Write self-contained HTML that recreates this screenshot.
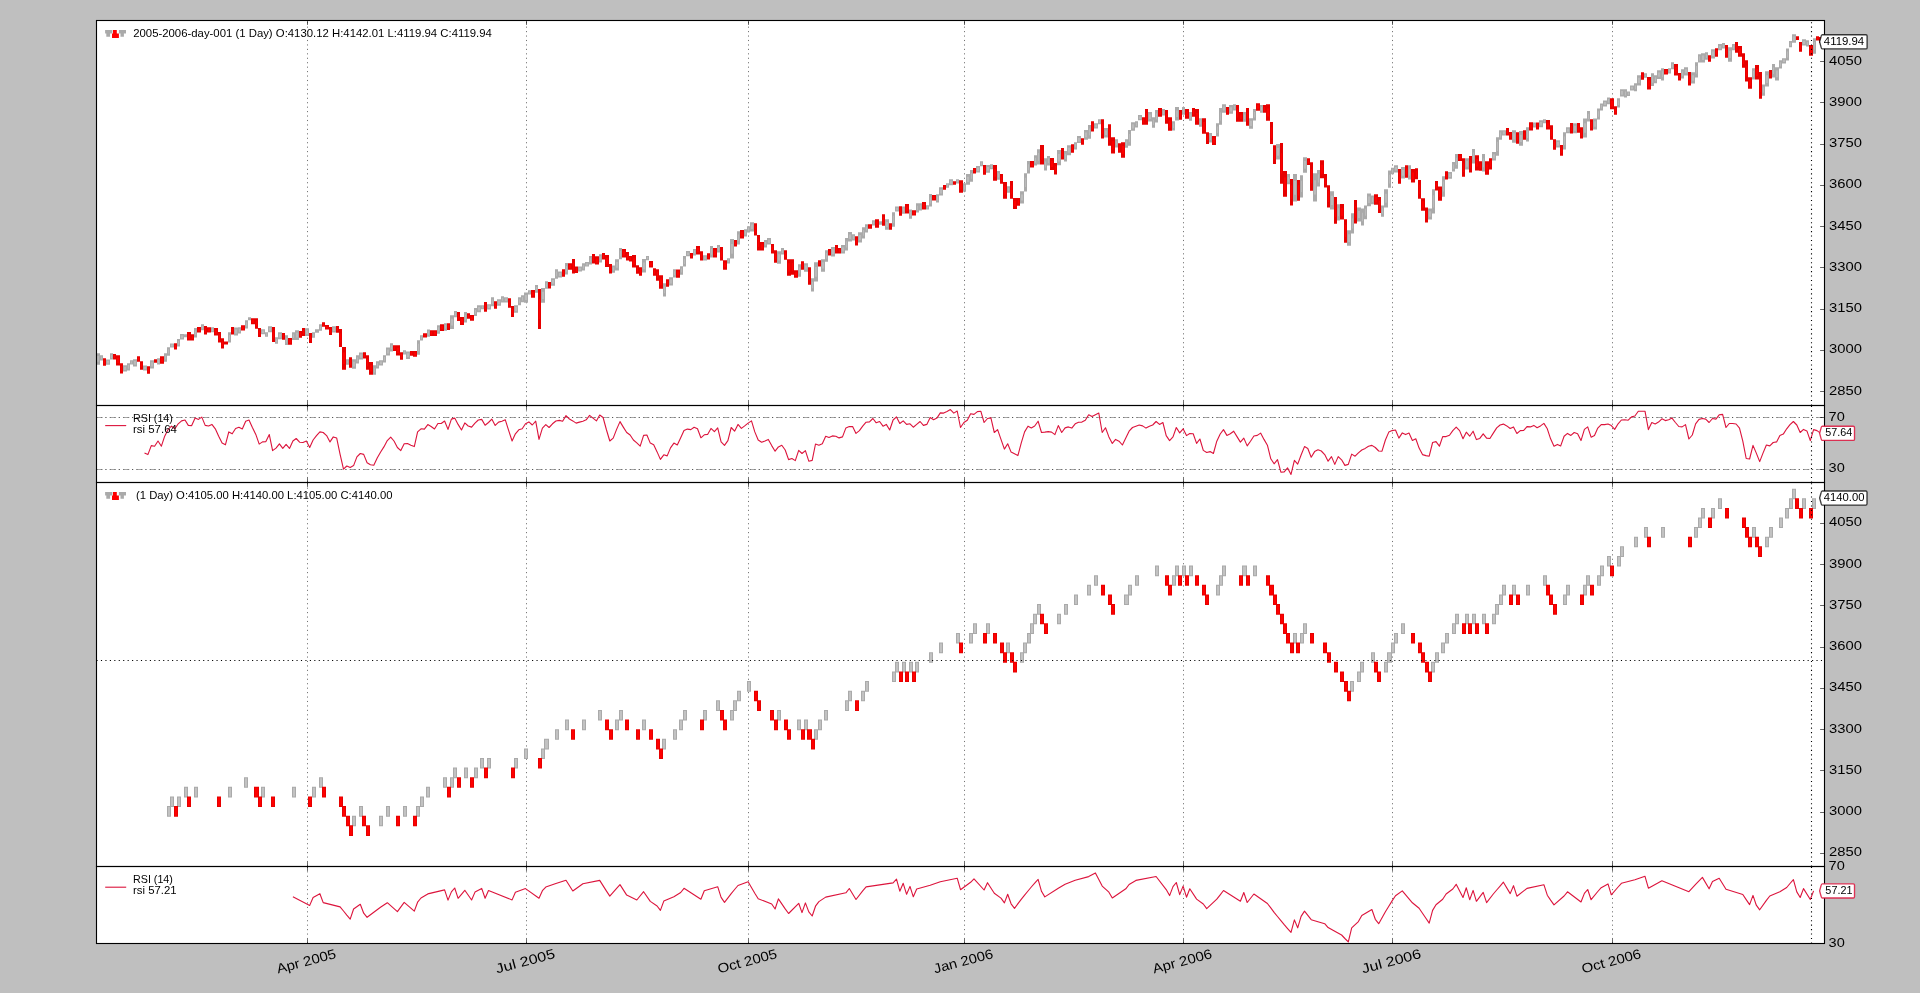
<!DOCTYPE html>
<html lang="en"><head><meta charset="utf-8"><title>backtrader plot</title>
<style>html,body{margin:0;padding:0;background:#bfbfbf;overflow:hidden}svg{display:block}text{font-family:"Liberation Sans",sans-serif;fill:#000}</style></head><body>
<svg width="1920" height="993" viewBox="0 0 1920 993">
<rect x="0" y="0" width="1920" height="993" fill="#bfbfbf"/>
<rect x="96.5" y="20.5" width="1728.0" height="385.0" fill="#fff"/>
<rect x="96.5" y="405.5" width="1728.0" height="77.0" fill="#fff"/>
<rect x="96.5" y="482.5" width="1728.0" height="384.0" fill="#fff"/>
<rect x="96.5" y="866.5" width="1728.0" height="77.0" fill="#fff"/>
<g stroke="#000" stroke-width="0.56" stroke-dasharray="1.1111 3.3333" fill="none">
<path d="M307.5 405.5V20.5"/>
<path d="M307.5 482.5V405.5"/>
<path d="M307.5 866.5V482.5"/>
<path d="M307.5 943.5V866.5"/>
<path d="M526.5 405.5V20.5"/>
<path d="M526.5 482.5V405.5"/>
<path d="M526.5 866.5V482.5"/>
<path d="M526.5 943.5V866.5"/>
<path d="M748.5 405.5V20.5"/>
<path d="M748.5 482.5V405.5"/>
<path d="M748.5 866.5V482.5"/>
<path d="M748.5 943.5V866.5"/>
<path d="M964.5 405.5V20.5"/>
<path d="M964.5 482.5V405.5"/>
<path d="M964.5 866.5V482.5"/>
<path d="M964.5 943.5V866.5"/>
<path d="M1183.5 405.5V20.5"/>
<path d="M1183.5 482.5V405.5"/>
<path d="M1183.5 866.5V482.5"/>
<path d="M1183.5 943.5V866.5"/>
<path d="M1392.5 405.5V20.5"/>
<path d="M1392.5 482.5V405.5"/>
<path d="M1392.5 866.5V482.5"/>
<path d="M1392.5 943.5V866.5"/>
<path d="M1612.5 405.5V20.5"/>
<path d="M1612.5 482.5V405.5"/>
<path d="M1612.5 866.5V482.5"/>
<path d="M1612.5 943.5V866.5"/>
</g>
<g stroke="#000" stroke-width="0.56" stroke-dasharray="1.1111 3.3333" fill="none">
<path d="M96.5 417.5H1824.5"/><path d="M96.5 469.5H1824.5"/>
</g>
<g stroke="#a8a8a8" stroke-width="1.11" stroke-dasharray="6.2 7.1333" fill="none">
<path d="M96.5 417.5H1824.5"/><path d="M96.5 469.5H1824.5"/>
</g>
<g stroke="#000" stroke-opacity="0.55" stroke-width="0.56" stroke-dasharray="1.1111 3.3333" fill="none">
<path d="M96.5 417.5H1824.5"/><path d="M96.5 469.5H1824.5"/>
</g>
<path fill="#aaaaaa" d="M96 353.2h4v11.5h-4zM100 355.3h3v5.2h-3zM106 359.5h4v5.2h-4zM110 353.2h3v6.2h-3zM123 365.3h4v6.2h-4zM127 363.3h3v7.3h-3zM130 360.2h3v4.3h-3zM133 359.3h4v7.3h-4zM143 365.5h4v5.0h-4zM150 360.2h4v8.4h-4zM157 358.3h3v6.2h-3zM164 353.2h3v8.5h-3zM167 347.2h3v8.5h-3zM170 343.4h4v4.0h-4zM177 339.1h3v7.5h-3zM180 334.1h4v5.4h-4zM184 334.3h3v3.0h-3zM194 328.1h3v9.5h-3zM201 324.2h3v6.0h-3zM211 327.3h3v5.0h-3zM228 332.3h3v10.3h-3zM234 327.5h4v8.1h-4zM238 327.3h3v6.2h-3zM245 320.2h3v8.3h-3zM248 317.2h3v3.0h-3zM261 329.3h4v5.0h-4zM265 332.3h3v4.5h-3zM268 326.3h4v6.0h-4zM275 337.3h3v6.5h-3zM278 332.3h4v7.0h-4zM285 335.3h3v9.6h-3zM292 332.3h3v7.6h-3zM295 330.3h4v9.6h-4zM305 328.3h4v7.6h-4zM312 332.3h3v5.5h-3zM315 329.3h4v3.5h-4zM319 324.2h3v6.5h-3zM332 326.3h4v6.2h-4zM346 359.3h3v5.4h-3zM352 359.3h4v9.5h-4zM356 355.3h3v8.3h-3zM359 352.4h4v7.0h-4zM373 365.3h3v9.5h-3zM376 361.3h3v7.3h-3zM379 360.3h4v5.2h-4zM383 355.3h3v7.3h-3zM386 347.4h4v8.1h-4zM390 343.2h3v8.3h-3zM403 350.2h3v4.2h-3zM406 351.4h4v7.5h-4zM417 340.2h3v14.6h-3zM420 335.3h3v5.2h-3zM427 329.4h3v7.3h-3zM437 325.2h3v8.5h-3zM444 323.2h3v7.5h-3zM450 315.3h4v13.6h-4zM454 311.1h3v6.2h-3zM464 312.1h3v10.5h-3zM474 308.1h3v7.8h-3zM477 305.2h4v7.0h-4zM481 305.2h3v4.0h-3zM487 304.2h4v5.2h-4zM491 297.2h3v9.1h-3zM497 299.2h4v6.5h-4zM501 296.2h3v6.2h-3zM504 297.2h4v5.2h-4zM514 305.2h4v7.6h-4zM518 297.2h3v8.1h-3zM521 295.2h3v7.0h-3zM524 292.4h4v10.4h-4zM528 290.3h3v4.3h-3zM535 285.1h3v7.6h-3zM541 288.1h4v14.6h-4zM545 281.3h3v7.4h-3zM551 278.3h4v7.4h-4zM555 269.2h3v9.5h-3zM558 271.4h4v6.2h-4zM565 263.1h3v11.5h-3zM578 266.4h4v5.2h-4zM582 263.3h3v7.3h-3zM585 262.1h4v4.4h-4zM589 256.1h3v8.3h-3zM599 254.3h3v8.3h-3zM612 265.4h3v7.3h-3zM615 259.3h4v11.3h-4zM619 248.0h3v11.3h-3zM642 259.1h4v13.5h-4zM646 256.1h3v4.2h-3zM663 283.3h3v13.3h-3zM669 277.2h4v8.3h-4zM673 269.2h3v8.3h-3zM680 266.2h3v8.5h-3zM683 256.1h3v10.5h-3zM686 251.1h4v5.2h-4zM693 249.0h3v6.4h-3zM703 255.3h4v5.2h-4zM710 246.1h3v11.5h-3zM717 245.1h3v7.5h-3zM727 258.2h3v5.4h-3zM730 239.1h4v19.5h-4zM737 231.2h3v13.3h-3zM744 229.2h3v7.3h-3zM747 226.2h3v6.2h-3zM750 222.2h4v9.3h-4zM764 240.1h3v7.5h-3zM767 238.1h4v6.4h-4zM777 251.2h4v12.5h-4zM781 248.1h3v6.4h-3zM798 264.2h3v12.5h-3zM804 263.2h4v8.5h-4zM811 278.3h3v13.3h-3zM814 262.2h4v19.3h-4zM821 259.2h4v12.5h-4zM825 250.2h3v11.5h-3zM831 247.1h4v9.5h-4zM841 245.1h4v8.5h-4zM845 238.1h3v12.5h-3zM848 232.0h4v9.5h-4zM852 234.2h3v6.2h-3zM858 232.3h4v10.3h-4zM862 227.3h3v11.3h-3zM865 224.3h3v8.3h-3zM872 220.3h3v5.2h-3zM879 221.3h3v3.4h-3zM885 219.2h4v10.5h-4zM892 212.2h3v14.5h-3zM895 206.4h4v5.2h-4zM902 206.4h3v7.3h-3zM909 209.4h3v9.3h-3zM916 203.3h3v9.3h-3zM919 203.3h3v7.3h-3zM926 205.2h3v4.4h-3zM929 194.1h3v12.5h-3zM936 194.3h3v8.3h-3zM939 187.2h4v8.3h-4zM946 183.2h3v4.5h-3zM949 179.2h4v6.0h-4zM956 179.2h3v4.2h-3zM963 183.2h3v8.6h-3zM966 174.1h4v10.6h-4zM970 170.1h3v11.6h-3zM976 166.1h4v6.5h-4zM980 161.2h3v5.0h-3zM986 165.1h4v7.6h-4zM990 164.3h3v5.0h-3zM997 171.1h3v8.6h-3zM1007 186.2h3v6.5h-3zM1020 191.3h4v12.3h-4zM1024 173.2h3v18.3h-3zM1027 161.1h3v12.3h-3zM1034 155.3h3v10.1h-3zM1037 149.2h3v15.3h-3zM1044 158.3h3v12.3h-3zM1047 156.1h3v9.3h-3zM1057 150.0h4v15.3h-4zM1064 151.1h3v10.5h-3zM1067 145.2h4v10.1h-4zM1074 142.2h3v7.3h-3zM1077 136.1h4v7.0h-4zM1084 130.1h4v9.6h-4zM1088 125.1h3v13.6h-3zM1094 123.3h4v5.3h-4zM1098 119.2h3v5.0h-3zM1104 128.1h4v9.3h-4zM1115 139.2h3v8.3h-3zM1125 139.2h3v8.6h-3zM1128 130.1h3v15.6h-3zM1131 122.3h4v8.4h-4zM1135 121.2h3v6.3h-3zM1138 115.1h4v5.2h-4zM1148 112.1h4v9.3h-4zM1152 117.2h3v10.6h-3zM1155 110.1h3v12.3h-3zM1162 109.1h3v6.5h-3zM1172 121.2h3v9.3h-3zM1175 107.1h4v13.3h-4zM1182 107.1h3v7.6h-3zM1189 112.1h3v8.6h-3zM1199 118.2h3v8.6h-3zM1209 133.1h3v9.5h-3zM1216 123.2h3v13.3h-3zM1219 108.1h3v16.6h-3zM1222 104.3h4v8.4h-4zM1229 105.1h4v8.6h-4zM1233 104.3h3v6.3h-3zM1243 112.1h3v9.6h-3zM1249 118.2h4v10.6h-4zM1253 109.1h3v11.3h-3zM1260 105.1h3v7.6h-3zM1276 144.1h4v15.5h-4zM1287 174.1h3v10.2h-3zM1293 174.1h4v27.4h-4zM1300 175.2h3v22.4h-3zM1303 157.2h4v15.5h-4zM1313 173.2h4v28.2h-4zM1317 170.1h3v16.4h-3zM1330 191.2h4v18.4h-4zM1337 204.3h3v16.1h-3zM1347 230.3h4v15.5h-4zM1351 213.3h3v20.3h-3zM1357 207.4h4v14.1h-4zM1361 208.5h3v17.1h-3zM1364 205.4h3v13.8h-3zM1367 193.4h4v12.9h-4zM1371 195.4h3v8.9h-3zM1381 205.4h3v11.3h-3zM1384 189.3h4v18.1h-4zM1388 170.5h3v17.2h-3zM1391 167.7h3v6.6h-3zM1394 165.3h4v7.1h-4zM1401 167.1h4v11.4h-4zM1408 165.3h3v14.1h-3zM1428 208.4h4v11.1h-4zM1432 189.2h3v24.4h-3zM1442 176.3h3v20.4h-3zM1448 172.1h4v6.6h-4zM1452 162.1h3v9.4h-3zM1455 154.1h3v14.6h-3zM1465 158.2h4v11.4h-4zM1472 149.0h3v14.4h-3zM1482 154.1h3v17.4h-3zM1492 152.1h4v8.3h-4zM1496 137.2h3v18.5h-3zM1499 130.2h3v9.5h-3zM1502 130.2h4v5.3h-4zM1512 130.2h4v12.5h-4zM1519 131.1h4v14.6h-4zM1526 127.2h3v14.4h-3zM1533 122.4h3v5.1h-3zM1539 120.3h4v7.0h-4zM1543 119.2h3v4.1h-3zM1556 140.3h4v7.2h-4zM1563 132.2h3v17.3h-3zM1566 127.3h4v6.0h-4zM1573 123.3h4v10.0h-4zM1583 118.5h4v19.1h-4zM1587 111.1h3v10.3h-3zM1593 118.5h4v11.1h-4zM1597 108.5h3v11.1h-3zM1600 103.4h3v7.0h-3zM1603 100.4h4v6.1h-4zM1607 97.4h3v6.9h-3zM1617 98.2h3v9.2h-3zM1620 89.3h4v7.2h-4zM1624 89.3h3v8.3h-3zM1627 91.5h3v4.4h-3zM1630 85.4h4v5.0h-4zM1634 83.2h3v8.0h-3zM1637 75.3h4v10.2h-4zM1644 73.3h3v4.4h-3zM1651 73.3h3v12.7h-3zM1654 75.3h3v8.0h-3zM1657 70.2h4v8.8h-4zM1661 68.3h3v12.1h-3zM1668 68.3h3v5.2h-3zM1671 62.3h3v7.0h-3zM1681 69.3h3v9.1h-3zM1684 67.3h4v8.1h-4zM1691 72.3h4v11.3h-4zM1695 62.3h3v15.3h-3zM1698 54.2h3v8.3h-3zM1701 53.2h4v9.3h-4zM1705 52.2h3v7.6h-3zM1711 49.2h4v9.3h-4zM1718 44.1h4v6.2h-4zM1722 43.1h3v5.5h-3zM1728 47.2h4v14.6h-4zM1732 44.1h3v6.2h-3zM1752 68.3h3v11.3h-3zM1762 84.4h3v11.3h-3zM1765 71.3h4v15.3h-4zM1772 64.1h3v13.5h-3zM1775 67.3h4v13.3h-4zM1779 60.2h3v8.3h-3zM1782 58.2h4v5.2h-4zM1786 48.4h3v12.1h-3zM1789 41.1h3v6.2h-3zM1792 34.3h4v8.4h-4zM1802 39.3h4v6.3h-4zM1806 40.3h3v6.3h-3zM1813 38.3h3v15.4h-3z"/>
<path fill="#e60000" d="M103 358.3h3v7.5h-3zM113 354.0h3v5.4h-3zM116 355.3h4v10.3h-4zM120 363.3h3v10.3h-3zM137 356.2h3v5.5h-3zM140 361.3h3v8.5h-3zM147 366.2h3v7.6h-3zM154 359.3h3v3.4h-3zM160 356.2h4v7.6h-4zM174 343.2h3v6.4h-3zM187 332.1h4v8.5h-4zM191 334.3h3v6.2h-3zM197 327.1h4v5.4h-4zM204 326.1h3v8.5h-3zM207 327.3h4v5.2h-4zM214 328.1h4v7.5h-4zM218 332.1h3v10.5h-3zM221 338.3h3v10.3h-3zM224 341.4h4v3.2h-4zM231 327.1h3v7.5h-3zM241 325.2h4v5.2h-4zM251 318.2h4v6.0h-4zM255 318.2h3v10.6h-3zM258 328.1h3v8.8h-3zM272 327.1h3v14.8h-3zM282 333.1h3v6.7h-3zM288 338.1h4v6.7h-4zM299 331.1h3v6.7h-3zM302 328.1h3v7.8h-3zM309 333.1h3v9.8h-3zM322 322.2h3v4.5h-3zM325 325.0h4v4.4h-4zM329 327.1h3v7.8h-3zM336 326.1h3v6.7h-3zM339 329.1h3v17.8h-3zM342 346.9h4v22.9h-4zM349 357.3h3v10.5h-3zM363 352.2h3v6.2h-3zM366 355.3h3v14.5h-3zM369 362.0h4v12.8h-4zM393 345.2h3v5.7h-3zM396 345.2h4v10.3h-4zM400 352.2h3v7.5h-3zM410 351.1h3v4.7h-3zM413 351.1h4v5.7h-4zM423 333.2h4v4.4h-4zM430 330.2h3v5.7h-3zM433 330.2h4v5.7h-4zM440 324.2h4v6.7h-4zM447 323.2h3v6.7h-3zM457 312.1h3v8.8h-3zM460 317.1h4v7.8h-4zM467 313.3h3v5.5h-3zM470 315.1h4v5.7h-4zM484 302.0h3v9.8h-3zM494 301.2h3v7.6h-3zM508 298.2h3v9.6h-3zM511 306.1h3v10.8h-3zM531 290.1h4v7.6h-4zM538 289.1h3v39.8h-3zM548 282.1h3v6.5h-3zM562 269.2h3v7.5h-3zM568 263.3h4v6.5h-4zM572 259.1h3v14.5h-3zM575 266.4h3v6.5h-3zM592 254.1h3v9.5h-3zM595 256.3h4v8.3h-4zM602 253.1h3v6.4h-3zM605 255.1h4v11.8h-4zM609 264.1h3v9.5h-3zM622 249.0h4v8.5h-4zM626 252.1h3v8.5h-3zM629 256.1h3v5.4h-3zM632 255.1h4v12.5h-4zM636 265.2h3v8.5h-3zM639 267.2h3v8.5h-3zM649 261.1h4v6.4h-4zM653 268.2h3v7.5h-3zM656 269.2h3v11.5h-3zM659 275.2h4v13.5h-4zM666 279.2h3v7.5h-3zM676 269.4h4v8.3h-4zM690 253.1h3v5.4h-3zM696 246.0h4v8.5h-4zM700 251.3h3v9.3h-3zM707 253.2h3v6.4h-3zM713 248.1h4v9.5h-4zM720 247.1h3v13.5h-3zM723 260.2h4v9.5h-4zM734 240.1h3v6.4h-3zM740 230.0h4v8.5h-4zM754 223.2h3v12.3h-3zM757 235.0h3v15.5h-3zM760 242.1h4v8.5h-4zM771 244.1h3v9.5h-3zM774 250.2h3v12.5h-3zM784 250.2h3v9.5h-3zM787 259.2h4v16.5h-4zM791 259.2h3v15.5h-3zM794 270.3h4v7.5h-4zM801 261.2h3v8.5h-3zM808 267.3h3v17.5h-3zM818 260.2h3v6.4h-3zM828 249.1h3v6.4h-3zM835 245.1h3v8.5h-3zM838 248.1h3v5.4h-3zM855 236.3h3v9.3h-3zM868 224.3h4v4.4h-4zM875 219.2h4v8.5h-4zM882 214.2h3v11.5h-3zM889 223.3h3v6.4h-3zM899 206.2h3v9.5h-3zM905 204.1h4v9.5h-4zM912 210.2h4v5.4h-4zM922 202.1h4v7.5h-4zM932 195.1h4v5.4h-4zM943 185.0h3v4.7h-3zM953 181.2h3v3.5h-3zM959 180.2h4v12.6h-4zM973 168.1h3v5.5h-3zM983 165.1h3v9.6h-3zM993 165.1h4v15.6h-4zM1000 174.1h3v9.6h-3zM1003 182.0h4v16.8h-4zM1010 181.0h3v17.8h-3zM1013 198.1h4v10.8h-4zM1017 198.1h3v7.6h-3zM1030 161.1h4v6.4h-4zM1040 145.0h4v19.5h-4zM1050 158.1h4v11.8h-4zM1054 163.1h3v11.5h-3zM1061 148.0h3v11.5h-3zM1071 144.2h3v8.6h-3zM1081 138.2h3v6.5h-3zM1091 121.2h3v10.4h-3zM1101 119.2h3v19.4h-3zM1108 124.3h3v21.5h-3zM1111 137.2h4v16.3h-4zM1118 143.2h3v9.6h-3zM1121 142.2h4v15.6h-4zM1142 117.2h3v7.6h-3zM1145 109.1h3v15.6h-3zM1158 108.1h4v8.6h-4zM1165 110.1h3v13.6h-3zM1168 117.2h4v13.6h-4zM1179 110.1h3v9.6h-3zM1185 109.1h4v9.6h-4zM1192 108.1h3v8.6h-3zM1195 109.1h4v15.6h-4zM1202 118.2h4v15.6h-4zM1206 132.3h3v11.6h-3zM1212 136.1h4v8.8h-4zM1226 107.1h3v7.6h-3zM1236 105.1h3v16.6h-3zM1239 112.1h4v9.6h-4zM1246 108.1h3v17.6h-3zM1256 103.3h4v7.4h-4zM1263 105.1h3v7.6h-3zM1266 104.3h4v16.4h-4zM1270 122.0h3v21.9h-3zM1273 145.2h3v18.8h-3zM1280 143.1h3v40.7h-3zM1283 171.0h4v25.7h-4zM1290 179.0h3v26.6h-3zM1297 180.1h3v20.6h-3zM1307 158.3h3v6.6h-3zM1310 162.2h3v28.6h-3zM1320 160.2h4v18.1h-4zM1324 174.1h3v13.5h-3zM1327 185.2h3v22.4h-3zM1334 197.1h3v26.6h-3zM1340 204.0h4v15.5h-4zM1344 219.2h3v23.6h-3zM1354 200.0h3v23.6h-3zM1374 194.3h4v10.5h-4zM1378 197.1h3v15.8h-3zM1398 169.0h3v14.7h-3zM1405 165.3h3v12.4h-3zM1411 169.0h4v13.6h-4zM1415 168.2h3v11.1h-3zM1418 180.1h3v18.6h-3zM1421 198.2h4v12.5h-4zM1425 207.4h3v15.2h-3zM1435 180.9h3v9.7h-3zM1438 186.5h4v14.2h-4zM1445 171.2h3v8.4h-3zM1458 154.1h4v6.9h-4zM1462 158.2h3v18.5h-3zM1469 156.0h3v16.6h-3zM1475 155.2h4v15.2h-4zM1479 161.2h3v9.5h-3zM1485 161.2h4v13.6h-4zM1489 158.2h3v11.4h-3zM1506 128.0h3v7.5h-3zM1509 132.0h3v7.8h-3zM1516 132.2h3v11.6h-3zM1523 130.2h3v9.5h-3zM1529 122.2h4v8.3h-4zM1536 122.4h3v7.0h-3zM1546 120.0h4v9.5h-4zM1550 125.3h3v14.4h-3zM1553 139.2h3v10.5h-3zM1560 145.0h3v10.7h-3zM1570 123.1h3v10.5h-3zM1577 123.1h3v9.7h-3zM1580 127.3h3v11.3h-3zM1590 119.2h3v11.4h-3zM1610 98.2h4v11.1h-4zM1614 106.3h3v8.5h-3zM1641 72.2h3v7.5h-3zM1647 77.1h4v12.5h-4zM1664 69.1h4v5.4h-4zM1674 64.1h4v11.5h-4zM1678 73.1h3v7.5h-3zM1688 72.1h3v13.5h-3zM1708 55.2h3v6.5h-3zM1715 48.2h3v8.6h-3zM1725 45.1h3v12.6h-3zM1735 42.1h3v10.6h-3zM1738 46.1h4v10.6h-4zM1742 53.2h3v14.6h-3zM1745 60.2h3v21.3h-3zM1748 77.2h4v11.5h-4zM1755 65.1h4v14.5h-4zM1759 72.1h3v26.6h-3zM1769 70.1h3v8.5h-3zM1796 36.3h3v3.6h-3zM1799 42.1h3v9.6h-3zM1809 45.1h4v10.6h-4zM1816 36.3h3v4.3h-3zM1819 37.1h4v6.0h-4z"/>
<path fill="#bbbbbb" d="M97 356.1h2v5.7h-2zM101 356.6h1v2.6h-1zM107 360.8h2v2.6h-2zM111 354.8h1v3.1h-1zM124 366.9h2v3.1h-2zM128 365.1h1v3.6h-1zM131 361.3h1v2.2h-1zM134 361.1h2v3.6h-2zM144 366.8h2v2.5h-2zM151 362.3h2v4.2h-2zM158 359.8h1v3.1h-1zM165 355.4h1v4.2h-1zM168 349.3h1v4.2h-1zM171 344.4h2v2.0h-2zM178 341.0h1v3.7h-1zM181 335.5h2v2.7h-2zM195 330.4h1v4.7h-1zM202 325.8h1v3.0h-1zM212 328.5h1v2.5h-1zM229 334.9h1v5.1h-1zM235 329.5h2v4.0h-2zM239 328.8h1v3.1h-1zM246 322.3h1v4.1h-1zM262 330.5h2v2.5h-2zM266 333.4h1v2.3h-1zM269 327.8h2v3.0h-2zM276 339.0h1v3.3h-1zM279 334.1h2v3.5h-2zM286 337.7h1v4.8h-1zM293 334.2h1v3.8h-1zM296 332.7h2v4.8h-2zM306 330.2h2v3.8h-2zM313 333.7h1v2.8h-1zM320 325.9h1v3.3h-1zM333 327.8h2v3.1h-2zM347 360.6h1v2.7h-1zM353 361.7h2v4.7h-2zM357 357.3h1v4.1h-1zM360 354.2h2v3.5h-2zM374 367.7h1v4.7h-1zM377 363.1h1v3.6h-1zM380 361.6h2v2.6h-2zM384 357.1h1v3.6h-1zM387 349.4h2v4.0h-2zM391 345.2h1v4.1h-1zM404 351.3h1v2.1h-1zM407 353.2h2v3.7h-2zM418 343.8h1v7.3h-1zM421 336.6h1v2.6h-1zM428 331.2h1v3.6h-1zM438 327.3h1v4.2h-1zM445 325.0h1v3.7h-1zM451 318.7h2v6.8h-2zM455 312.6h1v3.1h-1zM465 314.7h1v5.2h-1zM475 310.0h1v3.9h-1zM478 307.0h2v3.5h-2zM482 306.3h1v2.0h-1zM488 305.5h2v2.6h-2zM492 299.5h1v4.5h-1zM498 300.8h2v3.3h-2zM502 297.7h1v3.1h-1zM505 298.5h2v2.6h-2zM515 307.1h2v3.8h-2zM519 299.2h1v4.0h-1zM522 296.9h1v3.5h-1zM525 294.9h2v5.2h-2zM529 291.4h1v2.2h-1zM536 287.0h1v3.8h-1zM542 291.8h2v7.3h-2zM546 283.1h1v3.7h-1zM552 280.1h2v3.7h-2zM556 271.5h1v4.7h-1zM559 273.0h2v3.1h-2zM566 266.0h1v5.7h-1zM579 267.7h2v2.6h-2zM583 265.2h1v3.6h-1zM586 263.2h2v2.2h-2zM590 258.2h1v4.1h-1zM600 256.3h1v4.1h-1zM613 267.2h1v3.6h-1zM616 262.1h2v5.6h-2zM620 250.9h1v5.6h-1zM643 262.5h2v6.7h-2zM647 257.1h1v2.1h-1zM664 286.6h1v6.6h-1zM670 279.3h2v4.1h-2zM674 271.2h1v4.1h-1zM681 268.3h1v4.2h-1zM684 258.7h1v5.2h-1zM687 252.4h2v2.6h-2zM694 250.6h1v3.2h-1zM704 256.6h2v2.6h-2zM711 249.0h1v5.7h-1zM718 247.0h1v3.7h-1zM728 259.6h1v2.7h-1zM731 244.0h2v9.8h-2zM738 234.5h1v6.6h-1zM745 231.0h1v3.6h-1zM748 227.7h1v3.1h-1zM751 224.5h2v4.6h-2zM765 241.9h1v3.7h-1zM768 239.7h2v3.2h-2zM778 254.3h2v6.2h-2zM782 249.7h1v3.2h-1zM799 267.4h1v6.2h-1zM805 265.4h2v4.2h-2zM812 281.7h1v6.6h-1zM815 267.1h2v9.7h-2zM822 262.3h2v6.2h-2zM826 253.0h1v5.7h-1zM832 249.5h2v4.7h-2zM842 247.2h2v4.2h-2zM846 241.2h1v6.2h-1zM849 234.4h2v4.7h-2zM853 235.8h1v3.1h-1zM859 234.9h2v5.1h-2zM863 230.1h1v5.6h-1zM866 226.3h1v4.1h-1zM873 221.6h1v2.6h-1zM886 221.9h2v5.2h-2zM893 215.8h1v7.3h-1zM896 207.7h2v2.6h-2zM903 208.2h1v3.6h-1zM910 211.7h1v4.6h-1zM917 205.7h1v4.6h-1zM920 205.2h1v3.6h-1zM927 206.3h1v2.2h-1zM930 197.2h1v6.2h-1zM937 196.3h1v4.1h-1zM940 189.3h2v4.1h-2zM947 184.3h1v2.3h-1zM950 180.7h2v3.0h-2zM957 180.2h1v2.1h-1zM964 185.3h1v4.3h-1zM967 176.8h2v5.3h-2zM971 173.0h1v5.8h-1zM977 167.7h2v3.3h-2zM981 162.5h1v2.5h-1zM987 167.0h2v3.8h-2zM991 165.5h1v2.5h-1zM998 173.3h1v4.3h-1zM1008 187.9h1v3.3h-1zM1021 194.4h2v6.1h-2zM1025 177.8h1v9.2h-1zM1028 164.2h1v6.1h-1zM1035 157.8h1v5.0h-1zM1038 153.1h1v7.7h-1zM1045 161.4h1v6.1h-1zM1048 158.4h1v4.6h-1zM1058 153.9h2v7.7h-2zM1065 153.7h1v5.2h-1zM1068 147.7h2v5.0h-2zM1075 144.0h1v3.6h-1zM1078 137.9h2v3.5h-2zM1085 132.5h2v4.8h-2zM1089 128.5h1v6.8h-1zM1095 124.6h2v2.7h-2zM1099 120.5h1v2.5h-1zM1105 130.4h2v4.6h-2zM1116 141.2h1v4.1h-1zM1126 141.3h1v4.3h-1zM1129 134.0h1v7.8h-1zM1132 124.3h2v4.2h-2zM1136 122.8h1v3.2h-1zM1139 116.5h2v2.6h-2zM1149 114.4h2v4.6h-2zM1153 119.8h1v5.3h-1zM1156 113.2h1v6.1h-1zM1163 110.7h1v3.3h-1zM1173 123.5h1v4.6h-1zM1176 110.4h2v6.6h-2zM1183 109.0h1v3.8h-1zM1190 114.3h1v4.3h-1zM1200 120.3h1v4.3h-1zM1210 135.4h1v4.7h-1zM1217 126.5h1v6.6h-1zM1220 112.2h1v8.3h-1zM1223 106.4h2v4.2h-2zM1230 107.2h2v4.3h-2zM1234 105.9h1v3.2h-1zM1244 114.5h1v4.8h-1zM1250 120.8h2v5.3h-2zM1254 111.9h1v5.6h-1zM1261 107.0h1v3.8h-1zM1277 148.0h2v7.8h-2zM1288 176.7h1v5.1h-1zM1294 181.0h2v13.7h-2zM1301 180.8h1v11.2h-1zM1304 161.0h2v7.8h-2zM1314 180.3h2v14.1h-2zM1318 174.2h1v8.2h-1zM1331 195.8h2v9.2h-2zM1338 208.3h1v8.0h-1zM1348 234.2h2v7.8h-2zM1352 218.4h1v10.1h-1zM1358 210.9h2v7.0h-2zM1362 212.7h1v8.5h-1zM1365 208.8h1v6.9h-1zM1368 196.6h2v6.4h-2zM1372 197.6h1v4.4h-1zM1382 208.2h1v5.6h-1zM1385 193.8h2v9.0h-2zM1389 174.8h1v8.6h-1zM1392 169.4h1v3.3h-1zM1395 167.0h2v3.5h-2zM1402 170.0h2v5.7h-2zM1409 168.8h1v7.0h-1zM1429 211.2h2v5.5h-2zM1433 195.3h1v12.2h-1zM1443 181.4h1v10.2h-1zM1449 173.7h2v3.3h-2zM1453 164.4h1v4.7h-1zM1456 157.8h1v7.3h-1zM1466 161.1h2v5.7h-2zM1473 152.6h1v7.2h-1zM1483 158.5h1v8.7h-1zM1493 154.2h2v4.2h-2zM1497 141.8h1v9.3h-1zM1500 132.6h1v4.8h-1zM1503 131.5h2v2.7h-2zM1513 133.3h2v6.3h-2zM1520 134.7h2v7.3h-2zM1527 130.8h1v7.2h-1zM1534 123.7h1v2.5h-1zM1540 122.1h2v3.5h-2zM1544 120.3h1v2.0h-1zM1557 142.1h2v3.6h-2zM1564 136.5h1v8.6h-1zM1567 128.8h2v3.0h-2zM1574 125.8h2v5.0h-2zM1584 123.2h2v9.5h-2zM1588 113.7h1v5.2h-1zM1594 121.2h2v5.5h-2zM1598 111.3h1v5.5h-1zM1601 105.1h1v3.5h-1zM1604 101.9h2v3.0h-2zM1608 99.1h1v3.4h-1zM1618 100.5h1v4.6h-1zM1621 91.1h2v3.6h-2zM1625 91.4h1v4.2h-1zM1628 92.6h1v2.2h-1zM1631 86.7h2v2.5h-2zM1635 85.2h1v4.0h-1zM1638 77.8h2v5.1h-2zM1645 74.4h1v2.2h-1zM1652 76.4h1v6.4h-1zM1655 77.3h1v4.0h-1zM1658 72.4h2v4.4h-2zM1662 71.3h1v6.0h-1zM1669 69.6h1v2.6h-1zM1672 64.0h1v3.5h-1zM1682 71.6h1v4.5h-1zM1685 69.3h2v4.0h-2zM1692 75.2h2v5.6h-2zM1696 66.1h1v7.7h-1zM1699 56.3h1v4.1h-1zM1702 55.5h2v4.6h-2zM1706 54.1h1v3.8h-1zM1712 51.5h2v4.6h-2zM1719 45.7h2v3.1h-2zM1723 44.5h1v2.8h-1zM1729 50.8h2v7.3h-2zM1733 45.7h1v3.1h-1zM1753 71.1h1v5.6h-1zM1763 87.2h1v5.6h-1zM1766 75.2h2v7.7h-2zM1773 67.4h1v6.7h-1zM1776 70.6h2v6.6h-2zM1780 62.3h1v4.1h-1zM1783 59.5h2v2.6h-2zM1787 51.4h1v6.0h-1zM1790 42.7h1v3.1h-1zM1793 36.4h2v4.2h-2zM1803 40.9h2v3.2h-2zM1807 41.9h1v3.2h-1zM1814 42.1h1v7.7h-1z"/>
<path fill="#ff0000" d="M104 360.1h1v3.7h-1zM114 355.4h1v2.7h-1zM117 357.8h2v5.1h-2zM121 365.9h1v5.1h-1zM138 357.5h1v2.8h-1zM141 363.4h1v4.2h-1zM148 368.1h1v3.8h-1zM161 358.1h2v3.8h-2zM175 344.8h1v3.2h-1zM188 334.2h2v4.2h-2zM192 335.9h1v3.1h-1zM198 328.4h2v2.7h-2zM205 328.2h1v4.2h-1zM208 328.6h2v2.6h-2zM215 329.9h2v3.7h-2zM219 334.7h1v5.2h-1zM222 340.9h1v5.1h-1zM232 328.9h1v3.7h-1zM242 326.6h2v2.6h-2zM252 319.7h2v3.0h-2zM256 320.8h1v5.3h-1zM259 330.3h1v4.4h-1zM273 330.8h1v7.4h-1zM283 334.8h1v3.4h-1zM289 339.8h2v3.4h-2zM300 332.8h1v3.4h-1zM303 330.0h1v3.9h-1zM310 335.5h1v4.9h-1zM323 323.4h1v2.3h-1zM326 326.2h2v2.2h-2zM330 329.0h1v3.9h-1zM337 327.7h1v3.4h-1zM340 333.5h1v8.9h-1zM343 352.6h2v11.4h-2zM350 359.9h1v5.2h-1zM364 353.8h1v3.1h-1zM367 358.9h1v7.3h-1zM370 365.2h2v6.4h-2zM394 346.6h1v2.9h-1zM397 347.8h2v5.1h-2zM401 354.1h1v3.7h-1zM411 352.3h1v2.4h-1zM414 352.5h2v2.9h-2zM424 334.4h2v2.2h-2zM431 331.7h1v2.9h-1zM434 331.7h2v2.9h-2zM441 325.9h2v3.4h-2zM448 324.9h1v3.4h-1zM458 314.3h1v4.4h-1zM461 319.1h2v3.9h-2zM468 314.7h1v2.8h-1zM471 316.6h2v2.9h-2zM485 304.5h1v4.9h-1zM495 303.1h1v3.8h-1zM509 300.6h1v4.8h-1zM512 308.7h1v5.4h-1zM532 292.0h2v3.8h-2zM539 299.1h1v19.9h-1zM549 283.7h1v3.3h-1zM563 271.0h1v3.7h-1zM569 265.0h2v3.3h-2zM573 262.7h1v7.3h-1zM576 268.0h1v3.3h-1zM593 256.4h1v4.7h-1zM596 258.4h2v4.1h-2zM603 254.7h1v3.2h-1zM606 258.0h2v5.9h-2zM610 266.5h1v4.7h-1zM623 251.2h2v4.2h-2zM627 254.2h1v4.2h-1zM630 257.4h1v2.7h-1zM633 258.2h2v6.2h-2zM637 267.3h1v4.2h-1zM640 269.3h1v4.2h-1zM650 262.7h2v3.2h-2zM654 270.0h1v3.7h-1zM657 272.0h1v5.7h-1zM660 278.6h2v6.7h-2zM667 281.1h1v3.7h-1zM677 271.4h2v4.1h-2zM691 254.4h1v2.7h-1zM697 248.1h2v4.2h-2zM701 253.6h1v4.6h-1zM708 254.8h1v3.2h-1zM714 250.5h2v4.7h-2zM721 250.5h1v6.7h-1zM724 262.6h2v4.7h-2zM735 241.7h1v3.2h-1zM741 232.1h2v4.2h-2zM755 226.2h1v6.1h-1zM758 238.9h1v7.8h-1zM761 244.2h2v4.2h-2zM772 246.5h1v4.7h-1zM775 253.3h1v6.2h-1zM785 252.5h1v4.7h-1zM788 263.3h2v8.3h-2zM792 263.1h1v7.8h-1zM795 272.2h2v3.7h-2zM802 263.3h1v4.2h-1zM809 271.7h1v8.8h-1zM819 261.8h1v3.2h-1zM829 250.8h1v3.2h-1zM836 247.2h1v4.2h-1zM839 249.5h1v2.7h-1zM856 238.6h1v4.6h-1zM869 225.4h2v2.2h-2zM876 221.4h2v4.2h-2zM883 217.1h1v5.7h-1zM890 224.9h1v3.2h-1zM900 208.5h1v4.7h-1zM906 206.5h2v4.7h-2zM913 211.5h2v2.7h-2zM923 204.0h2v3.7h-2zM933 196.4h2v2.7h-2zM944 186.2h1v2.4h-1zM960 183.3h2v6.3h-2zM974 169.5h1v2.8h-1zM984 167.5h1v4.8h-1zM994 169.0h2v7.8h-2zM1001 176.5h1v4.8h-1zM1004 186.2h2v8.4h-2zM1011 185.4h1v8.9h-1zM1014 200.8h2v5.4h-2zM1018 200.0h1v3.8h-1zM1031 162.7h2v3.2h-2zM1041 149.9h2v9.8h-2zM1051 161.0h2v5.9h-2zM1055 166.0h1v5.7h-1zM1062 150.9h1v5.7h-1zM1072 146.3h1v4.3h-1zM1082 139.8h1v3.3h-1zM1092 123.8h1v5.2h-1zM1102 124.1h1v9.7h-1zM1109 129.6h1v10.7h-1zM1112 141.2h2v8.2h-2zM1119 145.6h1v4.8h-1zM1122 146.1h2v7.8h-2zM1143 119.0h1v3.8h-1zM1146 113.0h1v7.8h-1zM1159 110.2h2v4.3h-2zM1166 113.5h1v6.8h-1zM1169 120.6h2v6.8h-2zM1180 112.5h1v4.8h-1zM1186 111.5h2v4.8h-2zM1193 110.2h1v4.3h-1zM1196 113.0h2v7.8h-2zM1203 122.1h2v7.8h-2zM1207 135.2h1v5.8h-1zM1213 138.3h2v4.4h-2zM1227 109.0h1v3.8h-1zM1237 109.2h1v8.3h-1zM1240 114.5h2v4.8h-2zM1247 112.5h1v8.8h-1zM1257 105.1h2v3.7h-2zM1264 107.0h1v3.8h-1zM1267 108.4h2v8.2h-2zM1271 127.5h1v10.9h-1zM1274 149.9h1v9.4h-1zM1281 153.3h1v20.3h-1zM1284 177.4h2v12.9h-2zM1291 185.6h1v13.3h-1zM1298 185.3h1v10.3h-1zM1308 159.9h1v3.3h-1zM1311 169.3h1v14.3h-1zM1321 164.7h2v9.0h-2zM1325 177.5h1v6.8h-1zM1328 190.8h1v11.2h-1zM1335 203.7h1v13.3h-1zM1341 207.9h2v7.8h-2zM1345 225.1h1v11.8h-1zM1355 205.9h1v11.8h-1zM1375 196.9h2v5.3h-2zM1379 201.0h1v7.9h-1zM1399 172.7h1v7.4h-1zM1406 168.4h1v6.2h-1zM1412 172.4h2v6.8h-2zM1416 171.0h1v5.5h-1zM1419 184.8h1v9.3h-1zM1422 201.3h2v6.3h-2zM1426 211.1h1v7.6h-1zM1436 183.4h1v4.9h-1zM1439 190.0h2v7.1h-2zM1446 173.3h1v4.2h-1zM1459 155.8h2v3.4h-2zM1463 162.8h1v9.3h-1zM1470 160.2h1v8.3h-1zM1476 159.0h2v7.6h-2zM1480 163.6h1v4.8h-1zM1486 164.6h2v6.8h-2zM1490 161.1h1v5.7h-1zM1507 129.9h1v3.8h-1zM1510 133.9h1v3.9h-1zM1517 135.1h1v5.8h-1zM1524 132.6h1v4.8h-1zM1530 124.3h2v4.2h-2zM1537 124.2h1v3.5h-1zM1547 122.4h2v4.8h-2zM1551 128.9h1v7.2h-1zM1554 141.8h1v5.3h-1zM1561 147.7h1v5.4h-1zM1571 125.7h1v5.3h-1zM1578 125.6h1v4.9h-1zM1581 130.1h1v5.6h-1zM1591 122.1h1v5.7h-1zM1611 101.0h2v5.5h-2zM1615 108.4h1v4.3h-1zM1642 74.0h1v3.8h-1zM1648 80.3h2v6.3h-2zM1665 70.5h2v2.7h-2zM1675 66.9h2v5.7h-2zM1679 75.0h1v3.7h-1zM1689 75.5h1v6.7h-1zM1709 56.8h1v3.3h-1zM1716 50.3h1v4.3h-1zM1726 48.3h1v6.3h-1zM1736 44.8h1v5.3h-1zM1739 48.8h2v5.3h-2zM1743 56.8h1v7.3h-1zM1746 65.6h1v10.7h-1zM1749 80.0h2v5.7h-2zM1756 68.7h2v7.3h-2zM1760 78.8h1v13.3h-1zM1770 72.2h1v4.2h-1zM1800 44.5h1v4.8h-1zM1810 47.8h2v5.3h-2zM1817 37.4h1v2.2h-1zM1820 38.6h2v3.0h-2z"/>
<path fill="#aaaaaa" d="M167 806.10h4v10.62h-4zM170 796.48h4v10.62h-4zM177 796.48h4v10.62h-4zM184 786.86h4v10.62h-4zM194 786.86h4v10.62h-4zM228 786.86h4v10.62h-4zM244 777.24h4v10.62h-4zM261 786.86h4v10.62h-4zM292 786.86h4v10.62h-4zM312 786.86h4v10.62h-4zM319 777.24h4v10.62h-4zM352 815.72h4v10.62h-4zM359 806.10h4v10.62h-4zM379 815.72h4v10.62h-4zM386 806.10h4v10.62h-4zM403 806.10h4v10.62h-4zM416 806.10h4v10.62h-4zM420 796.48h4v10.62h-4zM426 786.86h4v10.62h-4zM443 777.24h4v10.62h-4zM450 777.24h4v10.62h-4zM453 767.62h4v10.62h-4zM464 767.62h4v10.62h-4zM474 767.62h4v10.62h-4zM480 758.00h4v10.62h-4zM487 758.00h4v10.62h-4zM514 758.00h4v10.62h-4zM524 748.38h4v10.62h-4zM541 748.38h4v10.62h-4zM544 738.76h5v10.62h-5zM555 729.14h4v10.62h-4zM565 719.52h4v10.62h-4zM582 719.52h4v10.62h-4zM598 709.90h4v10.62h-4zM615 719.52h4v10.62h-4zM619 709.90h4v10.62h-4zM642 719.52h4v10.62h-4zM662 738.76h4v10.62h-4zM673 729.14h4v10.62h-4zM679 719.52h4v10.62h-4zM683 709.90h4v10.62h-4zM703 709.90h4v10.62h-4zM716 700.28h4v10.62h-4zM730 709.90h4v10.62h-4zM733 700.28h4v10.62h-4zM737 690.66h4v10.62h-4zM747 681.04h4v10.62h-4zM777 709.90h4v10.62h-4zM797 719.52h4v10.62h-4zM804 719.52h4v10.62h-4zM814 729.14h4v10.62h-4zM818 719.52h4v10.62h-4zM824 709.90h4v10.62h-4zM845 700.28h4v10.62h-4zM848 690.66h4v10.62h-4zM861 690.66h4v10.62h-4zM865 681.04h4v10.62h-4zM892 671.42h4v10.62h-4zM895 661.80h4v10.62h-4zM902 661.80h4v10.62h-4zM909 661.80h4v10.62h-4zM915 661.80h4v10.62h-4zM929 652.18h4v10.62h-4zM939 642.56h4v10.62h-4zM956 632.94h4v10.62h-4zM969 632.94h4v10.62h-4zM973 623.32h4v10.62h-4zM986 623.32h4v10.62h-4zM1006 642.56h4v10.62h-4zM1020 652.18h4v10.62h-4zM1023 642.56h4v10.62h-4zM1027 632.94h4v10.62h-4zM1030 623.32h4v10.62h-4zM1033 613.70h4v10.62h-4zM1037 604.08h4v10.62h-4zM1057 613.70h4v10.62h-4zM1064 604.08h4v10.62h-4zM1074 594.46h4v10.62h-4zM1087 584.84h4v10.62h-4zM1094 575.22h4v10.62h-4zM1124 594.46h5v10.62h-5zM1128 584.84h4v10.62h-4zM1135 575.22h4v10.62h-4zM1155 565.60h4v10.62h-4zM1172 575.22h4v10.62h-4zM1175 565.60h4v10.62h-4zM1182 565.60h4v10.62h-4zM1189 565.60h4v10.62h-4zM1216 584.84h4v10.62h-4zM1219 575.22h4v10.62h-4zM1222 565.60h4v10.62h-4zM1242 565.60h5v10.62h-5zM1253 565.60h4v10.62h-4zM1293 632.94h4v10.62h-4zM1300 632.94h4v10.62h-4zM1303 623.32h4v10.62h-4zM1350 681.04h4v10.62h-4zM1357 671.42h4v10.62h-4zM1360 661.80h4v10.62h-4zM1371 652.18h4v10.62h-4zM1384 661.80h4v10.62h-4zM1387 652.18h5v10.62h-5zM1391 642.56h4v10.62h-4zM1394 632.94h4v10.62h-4zM1401 623.32h4v10.62h-4zM1431 661.80h4v10.62h-4zM1435 652.18h4v10.62h-4zM1441 642.56h4v10.62h-4zM1445 632.94h4v10.62h-4zM1452 623.32h4v10.62h-4zM1455 613.70h4v10.62h-4zM1465 613.70h4v10.62h-4zM1472 613.70h4v10.62h-4zM1482 613.70h4v10.62h-4zM1492 613.70h4v10.62h-4zM1495 604.08h4v10.62h-4zM1499 594.46h4v10.62h-4zM1502 584.84h4v10.62h-4zM1512 584.84h4v10.62h-4zM1526 584.84h4v10.62h-4zM1543 575.22h4v10.62h-4zM1563 594.46h4v10.62h-4zM1566 584.84h4v10.62h-4zM1583 584.84h4v10.62h-4zM1586 575.22h4v10.62h-4zM1597 575.22h4v10.62h-4zM1600 565.60h4v10.62h-4zM1607 555.98h4v10.62h-4zM1617 555.98h4v10.62h-4zM1620 546.36h4v10.62h-4zM1634 536.74h4v10.62h-4zM1644 527.12h4v10.62h-4zM1661 527.12h4v10.62h-4zM1694 527.12h4v10.62h-4zM1698 517.50h4v10.62h-4zM1701 507.88h4v10.62h-4zM1711 507.88h4v10.62h-4zM1718 498.26h4v10.62h-4zM1752 527.12h4v10.62h-4zM1765 536.74h4v10.62h-4zM1769 527.12h4v10.62h-4zM1779 517.50h4v10.62h-4zM1785 507.88h4v10.62h-4zM1789 498.26h4v10.62h-4zM1792 488.64h4v10.62h-4zM1802 498.26h4v10.62h-4zM1812 498.26h4v10.62h-4z"/>
<path fill="#e60000" d="M174 806.10h4v10.62h-4zM187 796.48h4v10.62h-4zM217 796.48h4v10.62h-4zM254 786.86h5v10.62h-5zM258 796.48h4v10.62h-4zM271 796.48h4v10.62h-4zM308 796.48h4v10.62h-4zM322 786.86h4v10.62h-4zM339 796.48h4v10.62h-4zM342 806.10h4v10.62h-4zM346 815.72h4v10.62h-4zM349 825.34h4v10.62h-4zM362 815.72h4v10.62h-4zM366 825.34h4v10.62h-4zM396 815.72h4v10.62h-4zM413 815.72h4v10.62h-4zM447 786.86h4v10.62h-4zM457 777.24h4v10.62h-4zM470 777.24h4v10.62h-4zM484 767.62h4v10.62h-4zM511 767.62h4v10.62h-4zM538 758.00h4v10.62h-4zM571 729.14h4v10.62h-4zM605 719.52h4v10.62h-4zM609 729.14h4v10.62h-4zM625 719.52h4v10.62h-4zM636 729.14h4v10.62h-4zM649 729.14h4v10.62h-4zM656 738.76h4v10.62h-4zM659 748.38h4v10.62h-4zM700 719.52h4v10.62h-4zM720 709.90h4v10.62h-4zM723 719.52h4v10.62h-4zM754 690.66h4v10.62h-4zM757 700.28h4v10.62h-4zM770 709.90h4v10.62h-4zM774 719.52h4v10.62h-4zM784 719.52h4v10.62h-4zM787 729.14h4v10.62h-4zM801 729.14h4v10.62h-4zM807 729.14h5v10.62h-5zM811 738.76h4v10.62h-4zM855 700.28h4v10.62h-4zM899 671.42h4v10.62h-4zM905 671.42h4v10.62h-4zM912 671.42h4v10.62h-4zM959 642.56h4v10.62h-4zM983 632.94h4v10.62h-4zM993 632.94h4v10.62h-4zM1000 642.56h4v10.62h-4zM1003 652.18h4v10.62h-4zM1010 652.18h4v10.62h-4zM1013 661.80h4v10.62h-4zM1040 613.70h4v10.62h-4zM1044 623.32h4v10.62h-4zM1101 584.84h4v10.62h-4zM1108 594.46h4v10.62h-4zM1111 604.08h4v10.62h-4zM1165 575.22h4v10.62h-4zM1168 584.84h4v10.62h-4zM1178 575.22h4v10.62h-4zM1185 575.22h4v10.62h-4zM1195 575.22h4v10.62h-4zM1202 584.84h4v10.62h-4zM1205 594.46h4v10.62h-4zM1239 575.22h4v10.62h-4zM1246 575.22h4v10.62h-4zM1266 575.22h4v10.62h-4zM1269 584.84h5v10.62h-5zM1273 594.46h4v10.62h-4zM1276 604.08h4v10.62h-4zM1280 613.70h4v10.62h-4zM1283 623.32h4v10.62h-4zM1286 632.94h4v10.62h-4zM1290 642.56h4v10.62h-4zM1296 642.56h4v10.62h-4zM1310 632.94h4v10.62h-4zM1323 642.56h4v10.62h-4zM1327 652.18h4v10.62h-4zM1334 661.80h4v10.62h-4zM1340 671.42h4v10.62h-4zM1344 681.04h4v10.62h-4zM1347 690.66h4v10.62h-4zM1374 661.80h4v10.62h-4zM1377 671.42h4v10.62h-4zM1411 632.94h4v10.62h-4zM1418 642.56h4v10.62h-4zM1421 652.18h4v10.62h-4zM1425 661.80h4v10.62h-4zM1428 671.42h4v10.62h-4zM1462 623.32h4v10.62h-4zM1468 623.32h4v10.62h-4zM1475 623.32h4v10.62h-4zM1485 623.32h4v10.62h-4zM1509 594.46h4v10.62h-4zM1516 594.46h4v10.62h-4zM1546 584.84h4v10.62h-4zM1549 594.46h4v10.62h-4zM1553 604.08h4v10.62h-4zM1580 594.46h4v10.62h-4zM1590 584.84h4v10.62h-4zM1610 565.60h4v10.62h-4zM1647 536.74h4v10.62h-4zM1688 536.74h4v10.62h-4zM1708 517.50h4v10.62h-4zM1725 507.88h4v10.62h-4zM1742 517.50h4v10.62h-4zM1745 527.12h4v10.62h-4zM1748 536.74h4v10.62h-4zM1755 536.74h4v10.62h-4zM1758 546.36h4v10.62h-4zM1795 498.26h4v10.62h-4zM1799 507.88h4v10.62h-4zM1809 507.88h4v10.62h-4z"/>
<path fill="#c2c2c2" d="M168 807.10h2v8.62h-2zM171 797.48h2v8.62h-2zM178 797.48h2v8.62h-2zM185 787.86h2v8.62h-2zM195 787.86h2v8.62h-2zM229 787.86h2v8.62h-2zM245 778.24h2v8.62h-2zM262 787.86h2v8.62h-2zM293 787.86h2v8.62h-2zM313 787.86h2v8.62h-2zM320 778.24h2v8.62h-2zM353 816.72h2v8.62h-2zM360 807.10h2v8.62h-2zM380 816.72h2v8.62h-2zM387 807.10h2v8.62h-2zM404 807.10h2v8.62h-2zM417 807.10h2v8.62h-2zM421 797.48h2v8.62h-2zM427 787.86h2v8.62h-2zM444 778.24h2v8.62h-2zM451 778.24h2v8.62h-2zM454 768.62h2v8.62h-2zM465 768.62h2v8.62h-2zM475 768.62h2v8.62h-2zM481 759.00h2v8.62h-2zM488 759.00h2v8.62h-2zM515 759.00h2v8.62h-2zM525 749.38h2v8.62h-2zM542 749.38h2v8.62h-2zM545 739.76h3v8.62h-3zM556 730.14h2v8.62h-2zM566 720.52h2v8.62h-2zM583 720.52h2v8.62h-2zM599 710.90h2v8.62h-2zM616 720.52h2v8.62h-2zM620 710.90h2v8.62h-2zM643 720.52h2v8.62h-2zM663 739.76h2v8.62h-2zM674 730.14h2v8.62h-2zM680 720.52h2v8.62h-2zM684 710.90h2v8.62h-2zM704 710.90h2v8.62h-2zM717 701.28h2v8.62h-2zM731 710.90h2v8.62h-2zM734 701.28h2v8.62h-2zM738 691.66h2v8.62h-2zM748 682.04h2v8.62h-2zM778 710.90h2v8.62h-2zM798 720.52h2v8.62h-2zM805 720.52h2v8.62h-2zM815 730.14h2v8.62h-2zM819 720.52h2v8.62h-2zM825 710.90h2v8.62h-2zM846 701.28h2v8.62h-2zM849 691.66h2v8.62h-2zM862 691.66h2v8.62h-2zM866 682.04h2v8.62h-2zM893 672.42h2v8.62h-2zM896 662.80h2v8.62h-2zM903 662.80h2v8.62h-2zM910 662.80h2v8.62h-2zM916 662.80h2v8.62h-2zM930 653.18h2v8.62h-2zM940 643.56h2v8.62h-2zM957 633.94h2v8.62h-2zM970 633.94h2v8.62h-2zM974 624.32h2v8.62h-2zM987 624.32h2v8.62h-2zM1007 643.56h2v8.62h-2zM1021 653.18h2v8.62h-2zM1024 643.56h2v8.62h-2zM1028 633.94h2v8.62h-2zM1031 624.32h2v8.62h-2zM1034 614.70h2v8.62h-2zM1038 605.08h2v8.62h-2zM1058 614.70h2v8.62h-2zM1065 605.08h2v8.62h-2zM1075 595.46h2v8.62h-2zM1088 585.84h2v8.62h-2zM1095 576.22h2v8.62h-2zM1125 595.46h3v8.62h-3zM1129 585.84h2v8.62h-2zM1136 576.22h2v8.62h-2zM1156 566.60h2v8.62h-2zM1173 576.22h2v8.62h-2zM1176 566.60h2v8.62h-2zM1183 566.60h2v8.62h-2zM1190 566.60h2v8.62h-2zM1217 585.84h2v8.62h-2zM1220 576.22h2v8.62h-2zM1223 566.60h2v8.62h-2zM1243 566.60h3v8.62h-3zM1254 566.60h2v8.62h-2zM1294 633.94h2v8.62h-2zM1301 633.94h2v8.62h-2zM1304 624.32h2v8.62h-2zM1351 682.04h2v8.62h-2zM1358 672.42h2v8.62h-2zM1361 662.80h2v8.62h-2zM1372 653.18h2v8.62h-2zM1385 662.80h2v8.62h-2zM1388 653.18h3v8.62h-3zM1392 643.56h2v8.62h-2zM1395 633.94h2v8.62h-2zM1402 624.32h2v8.62h-2zM1432 662.80h2v8.62h-2zM1436 653.18h2v8.62h-2zM1442 643.56h2v8.62h-2zM1446 633.94h2v8.62h-2zM1453 624.32h2v8.62h-2zM1456 614.70h2v8.62h-2zM1466 614.70h2v8.62h-2zM1473 614.70h2v8.62h-2zM1483 614.70h2v8.62h-2zM1493 614.70h2v8.62h-2zM1496 605.08h2v8.62h-2zM1500 595.46h2v8.62h-2zM1503 585.84h2v8.62h-2zM1513 585.84h2v8.62h-2zM1527 585.84h2v8.62h-2zM1544 576.22h2v8.62h-2zM1564 595.46h2v8.62h-2zM1567 585.84h2v8.62h-2zM1584 585.84h2v8.62h-2zM1587 576.22h2v8.62h-2zM1598 576.22h2v8.62h-2zM1601 566.60h2v8.62h-2zM1608 556.98h2v8.62h-2zM1618 556.98h2v8.62h-2zM1621 547.36h2v8.62h-2zM1635 537.74h2v8.62h-2zM1645 528.12h2v8.62h-2zM1662 528.12h2v8.62h-2zM1695 528.12h2v8.62h-2zM1699 518.50h2v8.62h-2zM1702 508.88h2v8.62h-2zM1712 508.88h2v8.62h-2zM1719 499.26h2v8.62h-2zM1753 528.12h2v8.62h-2zM1766 537.74h2v8.62h-2zM1770 528.12h2v8.62h-2zM1780 518.50h2v8.62h-2zM1786 508.88h2v8.62h-2zM1790 499.26h2v8.62h-2zM1793 489.64h2v8.62h-2zM1803 499.26h2v8.62h-2zM1813 499.26h2v8.62h-2z"/>
<path fill="#ff0000" d="M175 807.10h2v8.62h-2zM188 797.48h2v8.62h-2zM218 797.48h2v8.62h-2zM255 787.86h3v8.62h-3zM259 797.48h2v8.62h-2zM272 797.48h2v8.62h-2zM309 797.48h2v8.62h-2zM323 787.86h2v8.62h-2zM340 797.48h2v8.62h-2zM343 807.10h2v8.62h-2zM347 816.72h2v8.62h-2zM350 826.34h2v8.62h-2zM363 816.72h2v8.62h-2zM367 826.34h2v8.62h-2zM397 816.72h2v8.62h-2zM414 816.72h2v8.62h-2zM448 787.86h2v8.62h-2zM458 778.24h2v8.62h-2zM471 778.24h2v8.62h-2zM485 768.62h2v8.62h-2zM512 768.62h2v8.62h-2zM539 759.00h2v8.62h-2zM572 730.14h2v8.62h-2zM606 720.52h2v8.62h-2zM610 730.14h2v8.62h-2zM626 720.52h2v8.62h-2zM637 730.14h2v8.62h-2zM650 730.14h2v8.62h-2zM657 739.76h2v8.62h-2zM660 749.38h2v8.62h-2zM701 720.52h2v8.62h-2zM721 710.90h2v8.62h-2zM724 720.52h2v8.62h-2zM755 691.66h2v8.62h-2zM758 701.28h2v8.62h-2zM771 710.90h2v8.62h-2zM775 720.52h2v8.62h-2zM785 720.52h2v8.62h-2zM788 730.14h2v8.62h-2zM802 730.14h2v8.62h-2zM808 730.14h3v8.62h-3zM812 739.76h2v8.62h-2zM856 701.28h2v8.62h-2zM900 672.42h2v8.62h-2zM906 672.42h2v8.62h-2zM913 672.42h2v8.62h-2zM960 643.56h2v8.62h-2zM984 633.94h2v8.62h-2zM994 633.94h2v8.62h-2zM1001 643.56h2v8.62h-2zM1004 653.18h2v8.62h-2zM1011 653.18h2v8.62h-2zM1014 662.80h2v8.62h-2zM1041 614.70h2v8.62h-2zM1045 624.32h2v8.62h-2zM1102 585.84h2v8.62h-2zM1109 595.46h2v8.62h-2zM1112 605.08h2v8.62h-2zM1166 576.22h2v8.62h-2zM1169 585.84h2v8.62h-2zM1179 576.22h2v8.62h-2zM1186 576.22h2v8.62h-2zM1196 576.22h2v8.62h-2zM1203 585.84h2v8.62h-2zM1206 595.46h2v8.62h-2zM1240 576.22h2v8.62h-2zM1247 576.22h2v8.62h-2zM1267 576.22h2v8.62h-2zM1270 585.84h3v8.62h-3zM1274 595.46h2v8.62h-2zM1277 605.08h2v8.62h-2zM1281 614.70h2v8.62h-2zM1284 624.32h2v8.62h-2zM1287 633.94h2v8.62h-2zM1291 643.56h2v8.62h-2zM1297 643.56h2v8.62h-2zM1311 633.94h2v8.62h-2zM1324 643.56h2v8.62h-2zM1328 653.18h2v8.62h-2zM1335 662.80h2v8.62h-2zM1341 672.42h2v8.62h-2zM1345 682.04h2v8.62h-2zM1348 691.66h2v8.62h-2zM1375 662.80h2v8.62h-2zM1378 672.42h2v8.62h-2zM1412 633.94h2v8.62h-2zM1419 643.56h2v8.62h-2zM1422 653.18h2v8.62h-2zM1426 662.80h2v8.62h-2zM1429 672.42h2v8.62h-2zM1463 624.32h2v8.62h-2zM1469 624.32h2v8.62h-2zM1476 624.32h2v8.62h-2zM1486 624.32h2v8.62h-2zM1510 595.46h2v8.62h-2zM1517 595.46h2v8.62h-2zM1547 585.84h2v8.62h-2zM1550 595.46h2v8.62h-2zM1554 605.08h2v8.62h-2zM1581 595.46h2v8.62h-2zM1591 585.84h2v8.62h-2zM1611 566.60h2v8.62h-2zM1648 537.74h2v8.62h-2zM1689 537.74h2v8.62h-2zM1709 518.50h2v8.62h-2zM1726 508.88h2v8.62h-2zM1743 518.50h2v8.62h-2zM1746 528.12h2v8.62h-2zM1749 537.74h2v8.62h-2zM1756 537.74h2v8.62h-2zM1759 547.36h2v8.62h-2zM1796 499.26h2v8.62h-2zM1800 508.88h2v8.62h-2zM1810 508.88h2v8.62h-2z"/>
<polyline points="144.5,453.1 147.9,454.6 151.3,445.6 154.6,446.2 158.0,441.0 161.4,446.2 164.7,436.2 168.1,429.4 171.5,426.2 174.9,428.8 178.2,423.8 181.6,420.9 185.0,420.0 188.3,425.4 191.7,425.6 195.1,418.1 198.5,419.4 201.8,417.1 205.2,425.4 208.6,426.0 211.9,424.4 215.3,428.8 218.7,436.2 222.1,443.1 225.4,444.8 228.8,431.9 232.2,433.8 235.6,428.5 238.9,427.2 242.3,429.0 245.7,421.2 249.0,420.0 252.4,427.5 255.8,434.4 259.2,444.1 262.5,441.9 265.9,441.6 269.3,434.6 272.6,450.6 276.0,448.1 279.4,443.8 282.8,448.4 286.1,444.4 289.5,448.4 292.9,441.0 296.2,438.5 299.6,442.2 303.0,442.5 306.4,441.0 309.7,447.5 313.1,440.0 316.5,435.6 319.9,431.9 323.2,432.5 326.6,435.6 330.0,441.9 333.3,436.9 336.7,438.1 340.1,454.4 343.5,469.1 346.8,466.0 350.2,467.5 353.6,465.6 356.9,456.9 360.3,453.5 363.7,454.4 367.1,462.8 370.4,464.8 373.8,465.2 377.2,458.1 380.5,452.2 383.9,446.9 387.3,440.6 390.7,437.2 394.0,441.0 397.4,447.5 400.8,450.6 404.2,443.8 407.5,443.5 410.9,445.2 414.3,446.6 417.6,431.9 421.0,428.8 424.4,429.1 427.8,424.6 431.1,426.5 434.5,429.0 437.9,423.5 441.2,423.5 444.6,421.0 448.0,429.4 451.4,419.1 454.7,418.1 458.1,424.4 461.5,430.0 464.8,422.9 468.2,426.0 471.6,427.1 475.0,423.1 478.3,420.0 481.7,419.4 485.1,425.2 488.5,422.5 491.8,419.1 495.2,425.4 498.6,422.1 501.9,421.2 505.3,419.8 508.7,430.6 512.1,441.0 515.4,433.8 518.8,429.8 522.2,428.8 525.5,423.8 528.9,421.9 532.3,425.0 535.7,421.2 539.0,439.4 542.4,428.1 545.8,424.6 549.1,427.5 552.5,423.8 555.9,421.0 559.3,420.4 562.6,421.2 566.0,415.6 569.4,419.0 572.8,420.9 576.1,423.1 579.5,422.1 582.9,421.2 586.2,419.8 589.6,415.4 593.0,418.1 596.4,420.9 599.7,415.0 603.1,417.5 606.5,430.0 609.8,441.0 613.2,438.1 616.6,429.4 620.0,421.6 623.3,427.1 626.7,432.5 630.1,435.0 633.4,440.0 636.8,442.9 640.2,446.2 643.6,435.4 646.9,435.0 650.3,443.1 653.7,444.8 657.1,451.9 660.4,459.4 663.8,454.8 667.2,455.9 670.5,447.9 673.9,443.1 677.3,445.0 680.7,437.8 684.0,430.6 687.4,429.1 690.8,429.6 694.1,427.2 697.5,428.8 700.9,437.8 704.3,434.8 707.6,434.4 711.0,428.4 714.4,431.6 717.7,427.8 721.1,441.9 724.5,445.4 727.9,440.6 731.2,427.5 734.6,431.2 738.0,424.4 741.4,428.4 744.7,425.9 748.1,423.1 751.5,420.9 754.8,431.9 758.2,440.0 761.6,442.2 765.0,440.9 768.3,439.4 771.7,445.6 775.1,451.2 778.4,446.9 781.8,445.2 785.2,450.0 788.6,459.6 791.9,458.5 795.3,460.6 798.7,450.4 802.0,453.5 805.4,450.6 808.8,461.2 812.2,460.4 815.5,444.0 818.9,445.2 822.3,443.8 825.7,436.2 829.0,437.5 832.4,435.9 835.8,436.2 839.1,437.9 842.5,436.9 845.9,427.9 849.3,426.6 852.6,426.5 856.0,433.4 859.4,430.6 862.7,426.2 866.1,422.2 869.5,421.9 872.9,418.5 876.2,422.8 879.6,421.5 883.0,426.2 886.3,424.4 889.7,430.0 893.1,420.0 896.5,416.9 899.8,423.5 903.2,420.9 906.6,424.4 910.0,423.8 913.3,427.2 916.7,424.4 920.1,421.5 923.4,425.4 926.8,424.4 930.2,417.5 933.6,419.8 936.9,418.1 940.3,412.9 943.7,413.1 947.0,411.5 950.4,409.6 953.8,413.1 957.2,411.0 960.5,427.5 963.9,422.5 967.3,420.2 970.6,413.8 974.0,414.4 977.4,411.6 980.8,411.2 984.1,422.5 987.5,418.5 990.9,417.9 994.3,432.5 997.6,429.6 1001.0,439.4 1004.4,449.1 1007.7,443.8 1011.1,452.1 1014.5,453.8 1017.9,455.6 1021.2,443.1 1024.6,431.9 1028.0,426.2 1031.3,427.9 1034.7,426.0 1038.1,421.2 1041.5,432.5 1044.8,432.1 1048.2,431.6 1051.6,432.1 1054.9,434.6 1058.3,425.6 1061.7,432.5 1065.1,427.9 1068.4,426.9 1071.8,428.1 1075.2,423.8 1078.6,422.2 1081.9,422.1 1085.3,420.2 1088.7,414.8 1092.0,416.6 1095.4,414.8 1098.8,413.1 1102.2,432.5 1105.5,427.8 1108.9,436.9 1112.3,443.4 1115.6,439.4 1119.0,441.2 1122.4,445.0 1125.8,438.1 1129.1,431.2 1132.5,427.5 1135.9,426.2 1139.2,425.0 1142.6,425.9 1146.0,428.1 1149.4,426.2 1152.7,425.0 1156.1,421.5 1159.5,424.4 1162.9,422.5 1166.2,435.6 1169.6,440.6 1173.0,436.9 1176.3,427.5 1179.7,432.9 1183.1,428.8 1186.5,435.6 1189.8,433.5 1193.2,433.8 1196.6,443.4 1199.9,439.0 1203.3,450.4 1206.7,452.5 1210.1,451.6 1213.4,453.5 1216.8,441.2 1220.2,434.0 1223.5,429.6 1226.9,435.4 1230.3,433.8 1233.7,431.2 1237.0,436.6 1240.4,442.1 1243.8,438.1 1247.2,445.9 1250.5,441.2 1253.9,436.0 1257.3,435.4 1260.6,433.1 1264.0,439.4 1267.4,445.2 1270.8,458.8 1274.1,463.8 1277.5,459.6 1280.9,472.2 1284.2,471.9 1287.6,467.9 1291.0,474.4 1294.4,460.4 1297.7,464.1 1301.1,455.0 1304.5,446.6 1307.8,448.5 1311.2,457.2 1314.6,451.6 1318.0,449.8 1321.3,451.0 1324.7,454.6 1328.1,461.2 1331.5,456.6 1334.8,464.4 1338.2,456.6 1341.6,459.8 1344.9,465.4 1348.3,464.4 1351.7,454.1 1355.1,456.2 1358.4,452.9 1361.8,450.0 1365.2,448.4 1368.5,446.2 1371.9,445.4 1375.3,447.5 1378.7,451.0 1382.0,451.2 1385.4,440.0 1388.8,432.1 1392.1,430.6 1395.5,430.0 1398.9,438.1 1402.3,432.9 1405.6,434.6 1409.0,433.1 1412.4,440.4 1415.8,438.8 1419.1,448.1 1422.5,454.6 1425.9,455.6 1429.2,456.2 1432.6,442.5 1436.0,441.6 1439.4,446.2 1442.7,436.6 1446.1,436.6 1449.5,435.2 1452.8,430.6 1456.2,427.2 1459.6,430.6 1463.0,438.8 1466.3,432.2 1469.7,436.2 1473.1,431.2 1476.4,439.6 1479.8,438.4 1483.2,433.8 1486.6,438.1 1489.9,438.5 1493.3,433.1 1496.7,427.9 1500.1,425.0 1503.4,424.1 1506.8,425.9 1510.2,428.5 1513.5,426.9 1516.9,433.5 1520.3,430.6 1523.7,430.4 1527.0,426.6 1530.4,426.9 1533.8,425.4 1537.1,427.8 1540.5,425.9 1543.9,423.4 1547.3,428.8 1550.6,438.8 1554.0,446.2 1557.4,444.4 1560.7,445.9 1564.1,436.2 1567.5,433.4 1570.9,435.4 1574.2,432.5 1577.6,433.8 1581.0,440.6 1584.4,429.4 1587.7,426.9 1591.1,437.2 1594.5,435.4 1597.8,428.1 1601.2,424.6 1604.6,424.6 1608.0,424.0 1611.3,425.6 1614.7,429.4 1618.1,423.8 1621.4,420.0 1624.8,419.8 1628.2,420.2 1631.6,416.9 1634.9,416.0 1638.3,411.2 1641.7,411.2 1645.0,411.2 1648.4,429.6 1651.8,422.5 1655.2,424.0 1658.5,422.1 1661.9,418.8 1665.3,420.6 1668.7,419.8 1672.0,418.1 1675.4,422.5 1678.8,426.5 1682.1,426.9 1685.5,424.6 1688.9,439.0 1692.3,435.0 1695.6,423.8 1699.0,419.4 1702.4,418.5 1705.7,419.1 1709.1,422.5 1712.5,418.5 1715.9,419.1 1719.2,414.8 1722.6,414.4 1726.0,427.5 1729.3,423.5 1732.7,423.5 1736.1,424.0 1739.5,428.1 1742.8,441.2 1746.2,458.5 1749.6,459.0 1753.0,445.4 1756.3,453.1 1759.7,461.6 1763.1,452.9 1766.4,445.0 1769.8,445.9 1773.2,442.5 1776.6,441.9 1779.9,435.6 1783.3,434.1 1786.7,428.8 1790.0,424.6 1793.4,421.5 1796.8,425.0 1800.2,432.5 1803.5,429.4 1806.9,430.9 1810.3,440.6 1813.6,429.6 1817.0,430.6 1820.4,433.1" fill="none" stroke="#dc143c" stroke-width="1.11" stroke-linejoin="round"/>
<polyline points="292.9,896.8 309.7,905.4 313.1,897.5 319.9,893.7 323.2,902.6 340.1,906.9 343.5,911.0 346.8,915.1 350.2,919.1 353.6,909.0 360.3,904.3 363.7,913.2 367.1,917.3 380.5,907.3 387.3,902.7 397.4,911.7 404.2,902.4 414.3,911.1 417.6,902.2 421.0,898.0 427.8,893.9 444.6,889.9 448.0,900.1 451.4,891.9 454.7,888.0 458.1,898.3 464.8,890.3 471.6,900.0 475.0,892.1 481.7,888.4 485.1,898.2 488.5,890.5 512.1,899.9 515.4,892.2 525.5,888.6 539.0,898.2 542.4,890.7 545.8,887.1 555.9,883.6 566.0,880.2 572.8,891.0 582.9,883.8 599.7,880.4 606.5,891.1 609.8,896.1 616.6,888.3 620.0,884.6 626.7,895.1 636.8,900.0 643.6,891.7 650.3,901.4 657.1,906.0 660.4,910.4 663.8,901.1 673.9,896.7 680.7,892.5 684.0,888.3 700.9,899.2 704.3,890.7 717.7,886.7 721.1,897.4 724.5,902.4 731.2,893.6 734.6,889.5 738.0,885.5 748.1,881.7 754.8,893.3 758.2,898.7 771.7,904.0 775.1,909.0 778.4,898.9 785.2,908.9 788.6,913.5 798.7,903.3 802.0,912.6 805.4,902.9 808.8,911.9 812.2,916.0 815.5,906.2 818.9,901.6 825.7,897.1 845.9,892.8 849.3,888.5 856.0,899.5 862.7,890.9 866.1,886.9 893.1,882.9 896.5,879.1 899.8,891.2 903.2,883.3 906.6,894.3 910.0,886.4 913.3,896.8 916.7,889.0 930.2,885.3 940.3,881.7 957.2,878.2 960.5,889.7 970.6,882.3 974.0,878.8 984.1,890.0 987.5,882.7 994.3,893.2 1001.0,898.1 1004.4,902.9 1007.7,894.3 1011.1,903.8 1014.5,908.3 1021.2,899.3 1024.6,895.1 1028.0,891.0 1031.3,887.0 1034.7,883.1 1038.1,879.3 1041.5,891.3 1044.8,896.9 1058.3,888.2 1065.1,884.2 1075.2,880.3 1088.7,876.6 1095.4,872.9 1102.2,886.1 1108.9,892.2 1112.3,898.0 1125.8,888.8 1129.1,884.5 1135.9,880.4 1156.1,876.5 1166.2,889.6 1169.6,895.6 1173.0,886.6 1176.3,882.5 1179.7,894.6 1183.1,886.1 1186.5,897.2 1189.8,888.8 1196.6,899.1 1203.3,904.0 1206.7,908.7 1216.8,899.2 1220.2,894.8 1223.5,890.5 1240.4,901.2 1243.8,892.5 1247.2,902.5 1253.9,894.0 1267.4,903.5 1270.8,907.9 1274.1,912.3 1277.5,916.5 1280.9,920.7 1284.2,924.7 1287.6,928.6 1291.0,932.4 1294.4,919.9 1297.7,927.8 1301.1,916.4 1304.5,911.1 1311.2,919.7 1324.7,923.7 1328.1,927.6 1334.8,931.3 1341.6,935.0 1344.9,938.5 1348.3,941.9 1351.7,927.9 1358.4,921.6 1361.8,915.4 1371.9,909.5 1375.3,919.3 1378.7,923.7 1385.4,911.7 1388.8,906.2 1392.1,900.9 1395.5,895.8 1402.3,890.9 1412.4,902.8 1419.1,908.2 1422.5,913.3 1425.9,918.3 1429.2,923.1 1432.6,910.4 1436.0,904.7 1442.7,899.3 1446.1,894.0 1452.8,889.0 1456.2,884.3 1463.0,897.5 1466.3,887.8 1469.7,899.7 1473.1,890.4 1476.4,901.3 1483.2,892.4 1486.6,902.6 1493.3,894.0 1496.7,890.0 1500.1,886.1 1503.4,882.2 1510.2,893.6 1513.5,885.7 1516.9,896.2 1527.0,888.4 1543.9,884.7 1547.3,895.2 1550.6,900.1 1554.0,904.9 1564.1,896.0 1567.5,891.8 1581.0,902.0 1584.4,893.4 1587.7,889.5 1591.1,899.7 1597.8,891.5 1601.2,887.7 1608.0,883.9 1611.3,894.8 1618.1,887.0 1621.4,883.3 1634.9,879.8 1645.0,876.3 1648.4,888.2 1661.9,880.8 1688.9,891.7 1695.6,884.3 1699.0,880.8 1702.4,877.4 1709.1,888.8 1712.5,881.5 1719.2,878.2 1726.0,889.3 1742.8,894.5 1746.2,899.6 1749.6,904.6 1753.0,895.4 1756.3,905.2 1759.7,909.8 1766.4,900.4 1769.8,896.0 1779.9,891.7 1786.7,887.5 1790.0,883.5 1793.4,879.6 1796.8,891.9 1800.2,897.5 1803.5,888.6 1810.3,899.5 1813.6,890.9" fill="none" stroke="#dc143c" stroke-width="1.11" stroke-linejoin="round"/>
<g stroke="#000" stroke-width="1.11" stroke-dasharray="1.1111 3.3333" fill="none">
<path d="M1811.5 405.5V20.5"/>
<path d="M1811.5 482.5V405.5"/>
<path d="M1811.5 866.5V482.5"/>
<path d="M1811.5 943.5V866.5"/>
<path d="M96.5 660.5H1824.5"/>
</g>
<g stroke="#000" stroke-width="0.6" fill="none">
<path d="M307.5 20.5v4.4M307.5 405.5v-4.4"/>
<path d="M307.5 405.5v4.4M307.5 482.5v-4.4"/>
<path d="M307.5 482.5v4.4M307.5 866.5v-4.4"/>
<path d="M307.5 866.5v4.4M307.5 943.5v-4.4"/>
<path d="M526.5 20.5v4.4M526.5 405.5v-4.4"/>
<path d="M526.5 405.5v4.4M526.5 482.5v-4.4"/>
<path d="M526.5 482.5v4.4M526.5 866.5v-4.4"/>
<path d="M526.5 866.5v4.4M526.5 943.5v-4.4"/>
<path d="M748.5 20.5v4.4M748.5 405.5v-4.4"/>
<path d="M748.5 405.5v4.4M748.5 482.5v-4.4"/>
<path d="M748.5 482.5v4.4M748.5 866.5v-4.4"/>
<path d="M748.5 866.5v4.4M748.5 943.5v-4.4"/>
<path d="M964.5 20.5v4.4M964.5 405.5v-4.4"/>
<path d="M964.5 405.5v4.4M964.5 482.5v-4.4"/>
<path d="M964.5 482.5v4.4M964.5 866.5v-4.4"/>
<path d="M964.5 866.5v4.4M964.5 943.5v-4.4"/>
<path d="M1183.5 20.5v4.4M1183.5 405.5v-4.4"/>
<path d="M1183.5 405.5v4.4M1183.5 482.5v-4.4"/>
<path d="M1183.5 482.5v4.4M1183.5 866.5v-4.4"/>
<path d="M1183.5 866.5v4.4M1183.5 943.5v-4.4"/>
<path d="M1392.5 20.5v4.4M1392.5 405.5v-4.4"/>
<path d="M1392.5 405.5v4.4M1392.5 482.5v-4.4"/>
<path d="M1392.5 482.5v4.4M1392.5 866.5v-4.4"/>
<path d="M1392.5 866.5v4.4M1392.5 943.5v-4.4"/>
<path d="M1612.5 20.5v4.4M1612.5 405.5v-4.4"/>
<path d="M1612.5 405.5v4.4M1612.5 482.5v-4.4"/>
<path d="M1612.5 482.5v4.4M1612.5 866.5v-4.4"/>
<path d="M1612.5 866.5v4.4M1612.5 943.5v-4.4"/>
<path d="M1824.5 61.5h-4.4"/>
<path d="M1824.5 523.5h-4.4"/>
<path d="M1824.5 102.5h-4.4"/>
<path d="M1824.5 564.5h-4.4"/>
<path d="M1824.5 144.5h-4.4"/>
<path d="M1824.5 605.5h-4.4"/>
<path d="M1824.5 185.5h-4.4"/>
<path d="M1824.5 647.5h-4.4"/>
<path d="M1824.5 226.5h-4.4"/>
<path d="M1824.5 688.5h-4.4"/>
<path d="M1824.5 267.5h-4.4"/>
<path d="M1824.5 729.5h-4.4"/>
<path d="M1824.5 309.5h-4.4"/>
<path d="M1824.5 770.5h-4.4"/>
<path d="M1824.5 350.5h-4.4"/>
<path d="M1824.5 812.5h-4.4"/>
<path d="M1824.5 391.5h-4.4"/>
<path d="M1824.5 853.5h-4.4"/>
<path d="M1824.5 417.5h-4.4"/>
<path d="M1824.5 469.5h-4.4"/>
</g>
<g stroke="#000" stroke-width="1.11" fill="none">
<rect x="96.5" y="20.5" width="1728.0" height="385.0"/>
<rect x="96.5" y="405.5" width="1728.0" height="77.0"/>
<rect x="96.5" y="482.5" width="1728.0" height="384.0"/>
<rect x="96.5" y="866.5" width="1728.0" height="77.0"/>
</g>
<g opacity="0.999">
<g font-size="12.4">
<text x="1829.0" y="65" textLength="32.9" lengthAdjust="spacingAndGlyphs">4050</text>
<text x="1829.0" y="526" textLength="32.9" lengthAdjust="spacingAndGlyphs">4050</text>
<text x="1829.0" y="106" textLength="32.9" lengthAdjust="spacingAndGlyphs">3900</text>
<text x="1829.0" y="568" textLength="32.9" lengthAdjust="spacingAndGlyphs">3900</text>
<text x="1829.0" y="147" textLength="32.9" lengthAdjust="spacingAndGlyphs">3750</text>
<text x="1829.0" y="609" textLength="32.9" lengthAdjust="spacingAndGlyphs">3750</text>
<text x="1829.0" y="188" textLength="32.9" lengthAdjust="spacingAndGlyphs">3600</text>
<text x="1829.0" y="650" textLength="32.9" lengthAdjust="spacingAndGlyphs">3600</text>
<text x="1829.0" y="230" textLength="32.9" lengthAdjust="spacingAndGlyphs">3450</text>
<text x="1829.0" y="691" textLength="32.9" lengthAdjust="spacingAndGlyphs">3450</text>
<text x="1829.0" y="271" textLength="32.9" lengthAdjust="spacingAndGlyphs">3300</text>
<text x="1829.0" y="733" textLength="32.9" lengthAdjust="spacingAndGlyphs">3300</text>
<text x="1829.0" y="312" textLength="32.9" lengthAdjust="spacingAndGlyphs">3150</text>
<text x="1829.0" y="774" textLength="32.9" lengthAdjust="spacingAndGlyphs">3150</text>
<text x="1829.0" y="353" textLength="32.9" lengthAdjust="spacingAndGlyphs">3000</text>
<text x="1829.0" y="815" textLength="32.9" lengthAdjust="spacingAndGlyphs">3000</text>
<text x="1829.0" y="395" textLength="32.9" lengthAdjust="spacingAndGlyphs">2850</text>
<text x="1829.0" y="856" textLength="32.9" lengthAdjust="spacingAndGlyphs">2850</text>
<text x="1828.6" y="421" textLength="16.2" lengthAdjust="spacingAndGlyphs">70</text>
<text x="1828.6" y="472" textLength="16.2" lengthAdjust="spacingAndGlyphs">30</text>
<text x="1828.6" y="870" textLength="16.2" lengthAdjust="spacingAndGlyphs">70</text>
<text x="1828.6" y="947" textLength="16.2" lengthAdjust="spacingAndGlyphs">30</text>
</g>
<g font-size="13.5">
<text x="306.2" y="965.8" text-anchor="middle" textLength="61" lengthAdjust="spacingAndGlyphs" transform="rotate(-15 306.2 961.0)">Apr 2005</text>
<text x="525.2" y="965.8" text-anchor="middle" textLength="61" lengthAdjust="spacingAndGlyphs" transform="rotate(-15 525.2 961.0)">Jul 2005</text>
<text x="747.2" y="965.8" text-anchor="middle" textLength="61" lengthAdjust="spacingAndGlyphs" transform="rotate(-15 747.2 961.0)">Oct 2005</text>
<text x="963.2" y="965.8" text-anchor="middle" textLength="61" lengthAdjust="spacingAndGlyphs" transform="rotate(-15 963.2 961.0)">Jan 2006</text>
<text x="1182.2" y="965.8" text-anchor="middle" textLength="61" lengthAdjust="spacingAndGlyphs" transform="rotate(-15 1182.2 961.0)">Apr 2006</text>
<text x="1391.2" y="965.8" text-anchor="middle" textLength="61" lengthAdjust="spacingAndGlyphs" transform="rotate(-15 1391.2 961.0)">Jul 2006</text>
<text x="1611.2" y="965.8" text-anchor="middle" textLength="61" lengthAdjust="spacingAndGlyphs" transform="rotate(-15 1611.2 961.0)">Oct 2006</text>
</g>
<path fill="#aaaaaa" d="M105.1 30.1h7.3v3.3h-7.3zM106.3 30.1h3.8v6.7h-3.8zM118.9 30.1h7.1v3.3h-7.1zM120.5 30.1h3.4v6.7h-3.4z"/><path fill="#ff0000" d="M113 30.1h3.8v3.5h-3.8zM112 33.4h6.9v4.6h-6.9z"/>
<g font-size="10.3">
<text x="133.2" y="36.9" textLength="358.7" lengthAdjust="spacingAndGlyphs">2005-2006-day-001 (1 Day) O:4130.12 H:4142.01 L:4119.94 C:4119.94</text>
<text x="136.0" y="498.9" textLength="256.5" lengthAdjust="spacingAndGlyphs">(1 Day) O:4105.00 H:4140.00 L:4105.00 C:4140.00</text>
<text x="133.0" y="421.6" textLength="39.9" lengthAdjust="spacingAndGlyphs">RSI (14)</text>
<text x="133.0" y="432.7" textLength="43.9" lengthAdjust="spacingAndGlyphs">rsi 57.64</text>
<text x="133.0" y="883.1" textLength="39.9" lengthAdjust="spacingAndGlyphs">RSI (14)</text>
<text x="133.0" y="894.2" textLength="43.6" lengthAdjust="spacingAndGlyphs">rsi 57.21</text>
</g>
</g>
<path fill="#aaaaaa" d="M105.1 492.1h7.3v3.3h-7.3zM106.3 492.1h3.8v6.7h-3.8zM118.9 492.1h7.1v3.3h-7.1zM120.5 492.1h3.4v6.7h-3.4z"/><path fill="#ff0000" d="M113 492.1h3.8v3.5h-3.8zM112 495.4h6.9v4.6h-6.9z"/>
<path d="M105.2 425.6H126.2" stroke="#dc143c" stroke-width="1.11"/>
<path d="M105.2 887.2H126.2" stroke="#dc143c" stroke-width="1.11"/>
<path d="M1822.2 34.75H1865.8999999999999Q1867.1 34.75 1867.1 35.95V47.64999999999999Q1867.1 48.849999999999994 1865.8999999999999 48.849999999999994H1822.2Q1821.4 48.849999999999994 1821.0 46.849999999999994L1819.6 41.8L1821.0 36.75Q1821.4 34.75 1822.2 34.75Z" fill="#fff" stroke="#000" stroke-opacity="0.75" stroke-width="1.35" stroke-linejoin="round"/><g opacity="0.999"><text x="1823.8" y="45" font-size="10.3" textLength="40.4" lengthAdjust="spacingAndGlyphs">4119.94</text></g>
<path d="M1822.2 426.25H1853.3Q1854.5 426.25 1854.5 427.45V439.15000000000003Q1854.5 440.35 1853.3 440.35H1822.2Q1821.4 440.35 1821.0 438.35L1819.6 433.3L1821.0 428.25Q1821.4 426.25 1822.2 426.25Z" fill="#fff" stroke="#dc143c" stroke-opacity="0.85" stroke-width="1.35" stroke-linejoin="round"/><g opacity="0.999"><text x="1825.37" y="436" font-size="10.3" textLength="26.95" lengthAdjust="spacingAndGlyphs">57.64</text></g>
<path d="M1822.2 490.95H1865.8Q1867.0 490.95 1867.0 492.15V503.85Q1867.0 505.05 1865.8 505.05H1822.2Q1821.4 505.05 1821.0 503.05L1819.6 498.0L1821.0 492.95Q1821.4 490.95 1822.2 490.95Z" fill="#fff" stroke="#000" stroke-opacity="0.75" stroke-width="1.35" stroke-linejoin="round"/><g opacity="0.999"><text x="1823.8" y="501" font-size="10.3" textLength="40.7" lengthAdjust="spacingAndGlyphs">4140.00</text></g>
<path d="M1822.2 883.85H1853.3Q1854.5 883.85 1854.5 885.0500000000001V896.7499999999999Q1854.5 897.9499999999999 1853.3 897.9499999999999H1822.2Q1821.4 897.9499999999999 1821.0 895.9499999999999L1819.6 890.9L1821.0 885.85Q1821.4 883.85 1822.2 883.85Z" fill="#fff" stroke="#dc143c" stroke-opacity="0.85" stroke-width="1.35" stroke-linejoin="round"/><g opacity="0.999"><text x="1825.37" y="894" font-size="10.3" textLength="27.15" lengthAdjust="spacingAndGlyphs">57.21</text></g>
</svg></body></html>
